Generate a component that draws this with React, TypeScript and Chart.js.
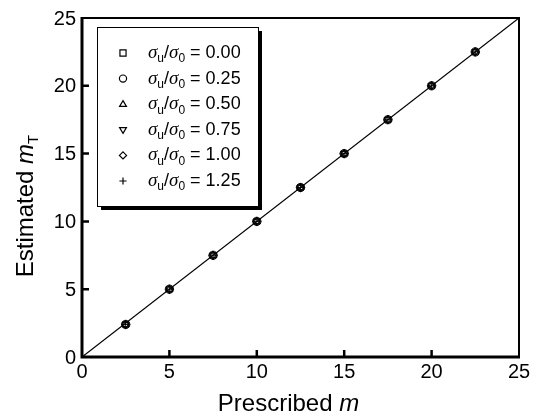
import React, { useEffect, useRef } from "react";
import { Chart, registerables } from "chart.js";

Chart.register(...registerables);

const prescribed = [2.5, 5, 7.5, 10, 12.5, 15, 17.5, 20, 22.5];
const est000 = [2.4, 5.0, 7.5, 10.0, 12.5, 15.0, 17.5, 20.0, 22.5];
const est025 = [2.4, 5.0, 7.5, 10.0, 12.5, 15.0, 17.5, 20.0, 22.5];
const est050 = [2.4, 5.0, 7.5, 10.0, 12.5, 15.0, 17.5, 20.0, 22.5];
const est075 = [2.4, 5.0, 7.5, 10.0, 12.5, 15.0, 17.5, 20.0, 22.5];
const est100 = [2.4, 5.0, 7.5, 10.0, 12.5, 15.0, 17.5, 20.0, 22.5];
const est125 = [2.4, 5.0, 7.5, 10.0, 12.5, 15.0, 17.5, 20.0, 22.5];
const ratioLabels = ["0.00", "0.25", "0.50", "0.75", "1.00", "1.25"];
const xTicks = [0, 5, 10, 15, 20, 25];
const yTicks = [0, 5, 10, 15, 20, 25];
const refLineX = [0, 25];
const refLineY = [0, 25];

const seriesEst = [est000, est025, est050, est075, est100, est125];
const styles: any[] = ["rect", "circle", "triangle", "triangle", "rectRot", "cross"];
const rotations = [0, 0, 0, 180, 0, 0];

const SANS = '"Liberation Sans", Arial, Helvetica, sans-serif';
const SERIF = '"Liberation Serif", "Times New Roman", serif';

function drawMarker(ctx: CanvasRenderingContext2D, kind: number, x: number, y: number, r: number) {
  ctx.beginPath();
  if (kind === 0) {
    const s = r * 0.85;
    ctx.rect(x - s, y - s, 2 * s, 2 * s);
  } else if (kind === 1) {
    ctx.arc(x, y, r, 0, Math.PI * 2);
  } else if (kind === 2 || kind === 3) {
    const dir = kind === 2 ? 1 : -1;
    ctx.moveTo(x, y - dir * r);
    ctx.lineTo(x + r * 0.95, y + dir * r * 0.6);
    ctx.lineTo(x - r * 0.95, y + dir * r * 0.6);
    ctx.closePath();
  } else if (kind === 4) {
    ctx.moveTo(x, y - r);
    ctx.lineTo(x + r, y);
    ctx.lineTo(x, y + r);
    ctx.lineTo(x - r, y);
    ctx.closePath();
  } else {
    ctx.moveTo(x - r, y);
    ctx.lineTo(x + r, y);
    ctx.moveTo(x, y - r);
    ctx.lineTo(x, y + r);
  }
  ctx.stroke();
}

type Part = { t: string; font: string; dy?: number };
function drawParts(ctx: CanvasRenderingContext2D, x: number, y: number, parts: Part[]) {
  let cx = x;
  for (const p of parts) {
    ctx.font = p.font;
    ctx.fillText(p.t, cx, y + (p.dy || 0));
    cx += ctx.measureText(p.t).width;
  }
  return cx - x;
}
function measureParts(ctx: CanvasRenderingContext2D, parts: Part[]) {
  let w = 0;
  for (const p of parts) {
    ctx.font = p.font;
    w += ctx.measureText(p.t).width;
  }
  return w;
}

const framePlugin = {
  id: "framePlugin",
  afterDraw(chart: any) {
    const ctx: CanvasRenderingContext2D = chart.ctx;
    const { left, right, top, bottom } = chart.chartArea;
    const xs = chart.scales.x;
    const ys = chart.scales.y;
    ctx.save();
    ctx.strokeStyle = "#000";
    ctx.fillStyle = "#000";

    // frame
    ctx.lineWidth = 2;
    ctx.strokeRect(left, top, right - left, bottom - top);
    ctx.lineWidth = 3;
    ctx.beginPath();
    ctx.moveTo(left, top - 1);
    ctx.lineTo(left, bottom);
    ctx.lineTo(right + 1, bottom);
    ctx.stroke();

    // ticks (inward)
    ctx.lineWidth = 2.5;
    ctx.beginPath();
    for (const v of xTicks) {
      if (v === xTicks[0] || v === xTicks[xTicks.length - 1]) continue;
      const px = xs.getPixelForValue(v);
      ctx.moveTo(px, bottom);
      ctx.lineTo(px, bottom - 7);
    }
    for (const v of yTicks) {
      if (v === yTicks[0] || v === yTicks[yTicks.length - 1]) continue;
      const py = ys.getPixelForValue(v);
      ctx.moveTo(left, py);
      ctx.lineTo(left + 7, py);
    }
    ctx.stroke();

    // tick labels
    ctx.font = `20px ${SANS}`;
    ctx.textAlign = "center";
    ctx.textBaseline = "middle";
    for (const v of xTicks) {
      ctx.fillText(String(v), xs.getPixelForValue(v), bottom + 15);
    }
    ctx.textAlign = "right";
    for (const v of yTicks) {
      ctx.fillText(String(v), left - 6, ys.getPixelForValue(v) + 1);
    }

    // axis titles
    ctx.textAlign = "left";
    ctx.textBaseline = "alphabetic";
    const xParts: Part[] = [
      { t: "Prescribed ", font: `24px ${SANS}` },
      { t: "m", font: `italic 24px ${SANS}` },
    ];
    const xw = measureParts(ctx, xParts);
    drawParts(ctx, (left + right) / 2 - 12 - xw / 2, 411, xParts);

    const yParts: Part[] = [
      { t: "Estimated ", font: `24px ${SANS}` },
      { t: "m", font: `italic 24px ${SANS}` },
      { t: "T", font: `15px ${SANS}`, dy: 5 },
    ];
    const yw = measureParts(ctx, yParts);
    ctx.save();
    ctx.translate(33, 206);
    ctx.rotate(-Math.PI / 2);
    drawParts(ctx, -yw / 2, 0, yParts);
    ctx.restore();

    // legend
    const bx = left + 15, by = top + 9, bw = 161, bh = 179;
    ctx.fillStyle = "#000";
    ctx.fillRect(bx + 4, by + 4, bw, bh);
    ctx.fillStyle = "#fff";
    ctx.fillRect(bx, by, bw, bh);
    ctx.lineWidth = 1;
    ctx.strokeStyle = "#000";
    ctx.strokeRect(bx + 0.5, by + 0.5, bw, bh);
    ctx.fillStyle = "#000";
    ctx.lineWidth = 1.2;
    for (let i = 0; i < ratioLabels.length; i++) {
      const ry = by + 26 + i * 25.6;
      drawMarker(ctx, i, bx + 26, ry, 3.6);
      ctx.textBaseline = "middle";
      drawParts(ctx, bx + 51, ry, [
        { t: "σ", font: `italic 19px ${SERIF}` },
        { t: "u", font: `12px ${SANS}`, dy: 6 },
        { t: "/", font: `18px ${SANS}` },
        { t: "σ", font: `italic 19px ${SERIF}` },
        { t: "0", font: `12px ${SANS}`, dy: 6 },
        { t: " = " + ratioLabels[i], font: `18px ${SANS}` },
      ]);
    }
    ctx.restore();
  },
};

export default function App() {
  const ref = useRef<HTMLCanvasElement | null>(null);
  useEffect(() => {
    document.body.style.margin = "0";
    const canvas = ref.current;
    if (!canvas) return;
    const datasets: any[] = [
      {
        label: "y = x",
        data: refLineX.map((x, i) => ({ x, y: refLineY[i] })),
        showLine: true,
        borderColor: "#000",
        borderWidth: 1.2,
        pointRadius: 0,
        fill: false,
      },
    ];
    seriesEst.forEach((arr, i) => {
      datasets.push({
        label: "σu/σ0 = " + ratioLabels[i],
        data: prescribed.map((x, j) => ({ x, y: arr[j] })),
        showLine: false,
        pointStyle: styles[i],
        rotation: rotations[i],
        pointRotation: rotations[i],
        pointRadius: 4.2,
        pointBorderColor: "#000",
        pointBackgroundColor: "rgba(0,0,0,0)",
        pointBorderWidth: 0.9,
      });
    });
    const chart = new Chart(canvas, {
      type: "scatter",
      data: { datasets },
      options: {
        animation: false,
        responsive: false,
        maintainAspectRatio: false,
        layout: { padding: { left: 0, right: 15, top: 18, bottom: 0 } },
        plugins: { legend: { display: false }, tooltip: { enabled: false } },
        scales: {
          x: {
            type: "linear",
            min: 0,
            max: 25,
            ticks: { display: false },
            grid: { display: false },
            border: { display: false },
            afterFit: (s: any) => { s.height = 61; },
          },
          y: {
            type: "linear",
            min: 0,
            max: 25,
            ticks: { display: false },
            grid: { display: false },
            border: { display: false },
            afterFit: (s: any) => { s.width = 82; },
          },
        },
      },
      plugins: [framePlugin],
    });
    return () => chart.destroy();
  }, []);
  return <canvas ref={ref} width={534} height={418} style={{ display: "block" }} />;
}
